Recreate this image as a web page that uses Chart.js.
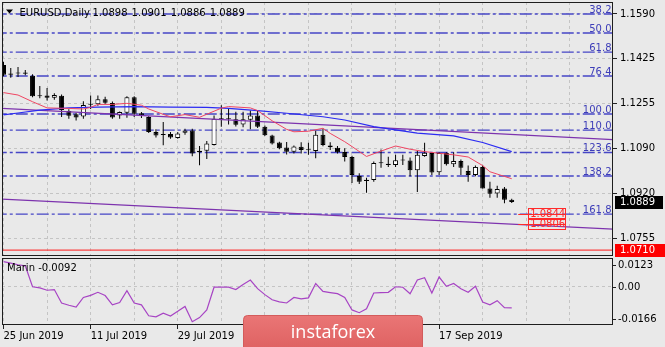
<!DOCTYPE html>
<html><head><meta charset="utf-8">
<script src="https://cdn.jsdelivr.net/npm/chart.js@4.4.0/dist/chart.umd.min.js"></script>
<style>
html,body{margin:0;padding:0;background:#e9e9e9;width:665px;height:347px;overflow:hidden}
#wrap{position:relative;width:665px;height:347px}
canvas{position:absolute;left:0}
#main{top:0}
#ind{top:256px}
</style></head><body>
<div id="wrap"><canvas id="main" width="665" height="257"></canvas><canvas id="ind" width="665" height="91"></canvas></div>
<script>
// ---------- DATA ----------
const symbolLabel = 'EURUSD,Daily';
const openP = [1.1400,1.1364,1.1368,1.1372,1.1360,1.1283,1.1286,1.1278,1.1285,1.1228,
1.1216,1.1208,1.1252,1.1254,1.1272,1.1258,1.1212,1.1222,1.1280,1.1220,
1.1206,1.1150,1.1139,1.1143,1.1128,1.1147,1.1156,1.1075,1.1080,1.1102,
1.1200,1.1200,1.1198,1.1178,1.1196,1.1212,1.1170,1.1137,1.1111,1.1092,
1.1077,1.1095,1.1083,1.1079,1.1140,1.1100,1.1091,1.1076,1.1057,1.0986,
1.0968,1.0971,1.1034,1.1032,1.1027,1.1045,1.1044,1.1008,1.1061,1.1072,
1.1000,1.1072,1.1030,1.1042,1.1005,1.0990,1.1020,1.0940,1.0921,1.0940,
1.0898];
const highP = [1.1412,1.1389,1.1392,1.1381,1.1365,1.1322,1.1314,1.1295,1.1290,1.1235,
1.1222,1.1265,1.1286,1.1286,1.1282,1.1264,1.1227,1.1283,1.1283,1.1225,
1.1210,1.1160,1.1187,1.1150,1.1150,1.1162,1.1162,1.1098,1.1117,1.1212,
1.1250,1.1240,1.1226,1.1226,1.1230,1.1228,1.1174,1.1140,1.1114,1.1113,
1.1100,1.1112,1.1110,1.1155,1.1163,1.1112,1.1098,1.1090,1.1062,1.0996,
1.0980,1.1040,1.1085,1.1058,1.1065,1.1065,1.1055,1.1080,1.1110,1.1075,
1.1075,1.1075,1.1075,1.1048,1.1025,1.1025,1.1025,1.0965,1.0950,1.0945,
1.0901];
const lowP = [1.1358,1.1352,1.1355,1.1362,1.1280,1.1276,1.1268,1.1270,1.1206,1.1200,
1.1193,1.1200,1.1236,1.1248,1.1255,1.1200,1.1200,1.1203,1.1206,1.1202,
1.1146,1.1130,1.1101,1.1125,1.1125,1.1140,1.1060,1.1026,1.1050,1.1100,
1.1170,1.1178,1.1171,1.1168,1.1160,1.1165,1.1135,1.1104,1.1086,1.1066,
1.1070,1.1070,1.1065,1.1052,1.1097,1.1083,1.1070,1.1040,1.0960,1.0956,
1.0924,1.0965,1.1017,1.1020,1.1020,1.1027,1.0985,1.0927,1.1058,1.0990,
1.0990,1.1025,1.1020,1.0990,1.0965,1.0985,1.0940,1.0905,1.0905,1.0885,
1.0886];
const closeP = [1.1364,1.1368,1.1370,1.1367,1.1283,1.1285,1.1278,1.1288,1.1232,1.1211,
1.1204,1.1251,1.1254,1.1272,1.1259,1.1204,1.1225,1.1280,1.1218,1.1210,
1.1150,1.1137,1.1143,1.1130,1.1145,1.1156,1.1070,1.1080,1.1107,1.1200,
1.1198,1.1198,1.1177,1.1198,1.1212,1.1170,1.1138,1.1107,1.1090,1.1077,
1.1096,1.1083,1.1082,1.1140,1.1102,1.1093,1.1075,1.1057,1.0990,1.0965,
1.0972,1.1035,1.1035,1.1027,1.1045,1.1044,1.1008,1.1065,1.1073,1.0999,
1.1072,1.1030,1.1042,1.1017,1.0990,1.1020,1.0940,1.0920,1.0938,1.0898,
1.0889];

const dateTickIdx = [0,12,24,36,48,60];
const dateTickLabels = ['25 Jun 2019','11 Jul 2019','29 Jul 2019','14 Aug 2019','30 Aug 2019','17 Sep 2019'];
const priceTicks = [1.1590,1.1425,1.1255,1.1090,1.0920,1.0755];

const redMaIdx = [0,2,4,6,9,11,12,13,15,17,19,20,22,23,25,27,30,31,34,35,37,39,40,42,44,45,47,48,50,52,54,56,58,60,62,64,66,67,70];
const redMaVal = [1.1297,1.1288,1.1263,1.1240,1.1238,1.1236,1.1242,1.1253,1.1253,1.1257,1.1250,1.1236,1.1216,1.1207,1.1215,1.1205,1.1239,1.1245,1.1240,1.1230,1.1192,1.1160,1.1151,1.1153,1.1164,1.1145,1.1114,1.1096,1.1059,1.1079,1.1098,1.1086,1.1077,1.1071,1.1065,1.1057,1.1025,1.1002,1.0976];
const blueMaIdx = [0,2,5,9,13,18,23,28,31,35,39,44,47,51,57,62,66,70];
const blueMaVal = [1.1214,1.1221,1.1232,1.1240,1.1243,1.1245,1.1243,1.1242,1.1238,1.1230,1.1220,1.1207,1.1195,1.1170,1.1146,1.1136,1.1111,1.1077];

const fibPercents = ['38.2','50.0','61.8','76.4','100.0','110.0','123.6','138.2','161.8'];
const fibPrices = [1.1590,1.1519,1.1448,1.1359,1.1217,1.1157,1.1074,1.0986,1.0844];

const trendUpperIdx = [-1,85], trendUpperVal = [1.1239,1.1120];
const trendLowerIdx = [-1,85], trendLowerVal = [1.0901,1.0787];
const supportLevel = 1.0710;
const targetLevels = [1.0844,1.0806];

const marinName = 'Marin';
const marinValues = [0.0107,0.0101,0.0094,0.0089,-0.0001,-0.0006,-0.0016,-0.0013,-0.0071,-0.0081,
-0.0089,-0.0047,-0.0038,-0.0025,-0.0039,-0.0079,-0.0069,-0.0018,-0.0071,-0.0079,
-0.0126,-0.0131,-0.0115,-0.0127,-0.0107,-0.0086,-0.0152,-0.0134,-0.0101,-0.0003,
-0.0003,-0.0003,-0.0013,0.0009,0.0028,-0.0009,-0.0035,-0.0057,-0.0066,-0.0071,
-0.0047,-0.0053,-0.0049,0.0013,-0.0021,-0.0026,-0.0031,-0.0047,-0.0101,-0.0113,
-0.0096,-0.0028,-0.0026,-0.0025,-0.0001,-0.0003,-0.0031,0.0028,0.0038,-0.0028,
0.0041,0.0001,0.0013,-0.0010,-0.0025,0.0001,-0.0067,-0.0079,-0.0061,-0.0091,-0.0092];
const marinTicks = [0.0123,0,-0.0166];

// ---------- CHART ----------
Chart.defaults.font.family = '"DejaVu Sans", sans-serif';
Chart.defaults.font.size = 10;
Chart.defaults.color = '#000';

const X_MIN = -0.207, X_MAX = 83.95, GRID_STEP = 6;
const FONT = '10px "DejaVu Sans"';
function gridTicks(){ const t=[]; for(let v=0; v<=X_MAX; v+=GRID_STEP) t.push({value:v}); return t; }
const pts = (xs, ys) => xs.map((x,k)=>({x, y:ys[k]}));
const lineDS = (data, color, width, dash, order) => ({type:'line', data, borderColor:color, borderWidth:width, borderDash:dash||[], pointRadius:0, tension:0, fill:false, order});
const GRID_COLOR = '#c4c4c4';

const mainOverlay = {
  id:'mainOverlay',
  afterDraw(chart){
    const {ctx, chartArea:a, scales:{x, y}} = chart;
    ctx.save();
    ctx.font = FONT;
    // fib labels
    ctx.fillStyle = '#3d3db8'; ctx.textAlign = 'right'; ctx.textBaseline = 'alphabetic';
    fibPercents.forEach((t,k)=>{ ctx.fillText(t, a.right - 1.5, y.getPixelForValue(fibPrices[k]) - 1); });
    // target levels
    const lastX = x.getPixelForValue(closeP.length - 1);
    targetLevels.forEach(p=>{
      const py = Math.round(y.getPixelForValue(p)) + 0.5;
      ctx.strokeStyle = '#ff2a2a'; ctx.lineWidth = 1;
      ctx.strokeRect(Math.round(lastX + 16) + 0.5, py - 6, 37, 11);
      ctx.beginPath(); ctx.moveTo(lastX + 6.5, py); ctx.lineTo(lastX + 53.5, py); ctx.stroke();
      ctx.fillStyle = '#ff2a2a'; ctx.textAlign = 'left'; ctx.textBaseline = 'middle';
      ctx.fillText(p.toFixed(4), lastX + 18.5, py);
    });
    // frame
    ctx.strokeStyle = '#1e1e1e'; ctx.lineWidth = 1;
    ctx.strokeRect(a.left + 0.5, a.top + 0.5, a.right - a.left - 1, a.bottom - a.top - 1);
    // price boxes
    const last = closeP[closeP.length-1];
    const cy = Math.round(y.getPixelForValue(last));
    ctx.fillStyle = '#000'; ctx.fillRect(a.right + 2, cy - 6, 48, 13);
    ctx.fillStyle = '#fff'; ctx.textAlign = 'left'; ctx.textBaseline = 'middle';
    ctx.fillText(last.toFixed(4), a.right + 7, cy + 0.5);
    const sy = Math.round(y.getPixelForValue(supportLevel));
    ctx.fillStyle = '#ff0000'; ctx.fillRect(a.right + 2, sy - 6, 50, 13);
    ctx.fillStyle = '#fff'; ctx.fillText(supportLevel.toFixed(4), a.right + 7, sy + 0.5);
    // header
    const n = closeP.length - 1;
    ctx.fillStyle = '#000';
    ctx.beginPath(); ctx.moveTo(6, 9.5); ctx.lineTo(13, 9.5); ctx.lineTo(9.5, 13.5); ctx.closePath(); ctx.fill();
    ctx.textAlign = 'left'; ctx.textBaseline = 'alphabetic';
    ctx.fillText(symbolLabel, 19.5, 15.5);
    [openP[n], highP[n], lowP[n], closeP[n]].forEach((v,k)=>ctx.fillText(v.toFixed(4), 92.5 + 39.1*k, 15.5));
    ctx.restore();
  }
};

new Chart(document.getElementById('main'), {
  type:'bar',
  data:{datasets:[
    {type:'bar', data: closeP.map((c,i)=>({x:i, y:[openP[i], c]})),
     backgroundColor: closeP.map((c,i)=> c >= openP[i] ? '#ffffff' : '#000000'),
     borderColor:'#000', borderWidth:1, borderSkipped:false, barThickness:5, maxBarThickness:5,
     minBarLength:1, grouped:false, inflateAmount:0, order:2},
    {type:'bar', data: closeP.map((c,i)=>({x:i, y:[lowP[i], highP[i]]})),
     backgroundColor:'#000', borderWidth:0, barThickness:1, maxBarThickness:1, grouped:false, inflateAmount:0, order:3},
    lineDS(pts(redMaIdx, redMaVal), '#ef4562', 1, null, 0),
    lineDS(pts(blueMaIdx, blueMaVal), '#2b2bf2', 1.2, null, 0),
    lineDS(pts(trendUpperIdx, trendUpperVal), '#7d33ae', 1.3, null, 1),
    lineDS(pts(trendLowerIdx, trendLowerVal), '#7d33ae', 1.3, null, 1),
    ...fibPrices.map(p => lineDS([{x:X_MIN-1, y:p},{x:X_MAX+1, y:p}], '#4646c6', 1.4, [12,3,3,3], 5)),
    lineDS([{x:X_MIN-1, y:supportLevel},{x:X_MAX+1, y:supportLevel}], '#ff1a1a', 1, null, 1)
  ]},
  options:{
    responsive:false, animation:false, devicePixelRatio:1, events:[],
    layout:{padding:{left:2, top:2, right:0, bottom:1}, autoPadding:false},
    plugins:{legend:{display:false}, tooltip:{enabled:false}},
    scales:{
      x:{type:'linear', min:X_MIN, max:X_MAX, offset:false,
        afterBuildTicks: s => { s.ticks = gridTicks(); },
        afterFit: s => { s.height = 0; s.paddingLeft = 0; s.paddingRight = 0; },
        ticks:{display:false},
        grid:{color:GRID_COLOR, drawTicks:false, offset:false},
        border:{display:false, dash:[3,3]}},
      y:{type:'linear', position:'right', min:1.06880, max:1.16347, beginAtZero:false,
        afterBuildTicks: s => { s.ticks = priceTicks.map(v=>({value:v})); },
        afterFit: s => { s.width = 52; s.paddingTop = 0; s.paddingBottom = 0; },
        ticks:{autoSkip:false, padding:3, color:'#000', callback: v => v.toFixed(4)},
        grid:{color:GRID_COLOR, drawTicks:true, tickLength:4, tickColor:'#222', tickBorderDash:[], tickWidth:1},
        border:{display:false, dash:[3,3]}}
    }
  },
  plugins:[mainOverlay]
});

const indOverlay = {
  id:'indOverlay',
  afterDraw(chart){
    const {ctx, chartArea:a, scales:{y}} = chart;
    ctx.save();
    ctx.font = FONT;
    ctx.strokeStyle = '#1e1e1e'; ctx.lineWidth = 1;
    ctx.strokeRect(a.left + 0.5, a.top + 0.5, a.right - a.left - 1, a.bottom - a.top - 1);
    const ly = [a.top + 7, y.getPixelForValue(0), a.bottom - 6.5];
    ctx.fillStyle = '#000'; ctx.textAlign = 'left'; ctx.textBaseline = 'middle';
    marinTicks.forEach((v,k)=>{
      const yy = Math.round(ly[k]) + 0.5;
      ctx.beginPath(); ctx.moveTo(a.right, yy); ctx.lineTo(a.right + 3, yy); ctx.stroke();
      ctx.fillText(v === 0 ? '0.00' : v.toFixed(4), a.right + 5, yy);
    });
    ctx.fillText(marinName + ' ' + marinValues[marinValues.length-1].toFixed(4), 7, a.top + 10);
    // banner
    const bx = 243, by = 59, bw = 179, bh = 40;
    const g = ctx.createLinearGradient(0, by, 0, by + 32);
    g.addColorStop(0, '#ea7676'); g.addColorStop(1, '#df6363');
    ctx.fillStyle = g;
    ctx.beginPath(); ctx.roundRect(bx + 0.5, by + 0.5, bw, bh, 4); ctx.fill();
    ctx.strokeStyle = '#d35b5b'; ctx.stroke();
    ctx.fillStyle = '#ffffff'; ctx.font = '18px "Open Sans"'; ctx.textAlign = 'center'; ctx.textBaseline = 'alphabetic';
    ctx.fillText('instaforex', bx + bw/2 + 0.5, 81.5);
    ctx.restore();
  }
};

new Chart(document.getElementById('ind'), {
  type:'line',
  data:{datasets:[{data: marinValues.map((v,i)=>({x:i, y:v})), borderColor:'#a744c4', borderWidth:1.2, pointRadius:0, tension:0, fill:false}]},
  options:{
    responsive:false, animation:false, devicePixelRatio:1, events:[],
    layout:{padding:{left:2, top:2, right:0, bottom:0}, autoPadding:false},
    plugins:{legend:{display:false}, tooltip:{enabled:false}},
    scales:{
      x:{type:'linear', min:X_MIN, max:X_MAX, offset:false,
        afterBuildTicks: s => { s.ticks = gridTicks(); },
        afterFit: s => { s.height = 22; s.paddingLeft = 0; s.paddingRight = 0; },
        ticks:{autoSkip:false, maxRotation:0, minRotation:0, align:'start', padding:1, color:'#000',
          callback: v => { const k = dateTickIdx.indexOf(v); return k >= 0 ? dateTickLabels[k] : ''; }},
        grid:{color:GRID_COLOR, drawTicks:true, tickLength:4, tickBorderDash:[], tickWidth:1,
          tickColor: c => (c.tick && dateTickIdx.includes(c.tick.value)) ? '#222' : 'rgba(0,0,0,0)'},
        border:{display:false, dash:[3,3]}},
      y:{type:'linear', position:'right', min:-0.0166, max:0.0123,
        afterBuildTicks: s => { s.ticks = [{value:0}]; },
        afterFit: s => { s.width = 52; s.paddingTop = 0; s.paddingBottom = 0; },
        ticks:{display:false},
        grid:{color:GRID_COLOR, drawTicks:false},
        border:{display:false, dash:[3,3]}}
    }
  },
  plugins:[indOverlay]
});
</script></body></html>
